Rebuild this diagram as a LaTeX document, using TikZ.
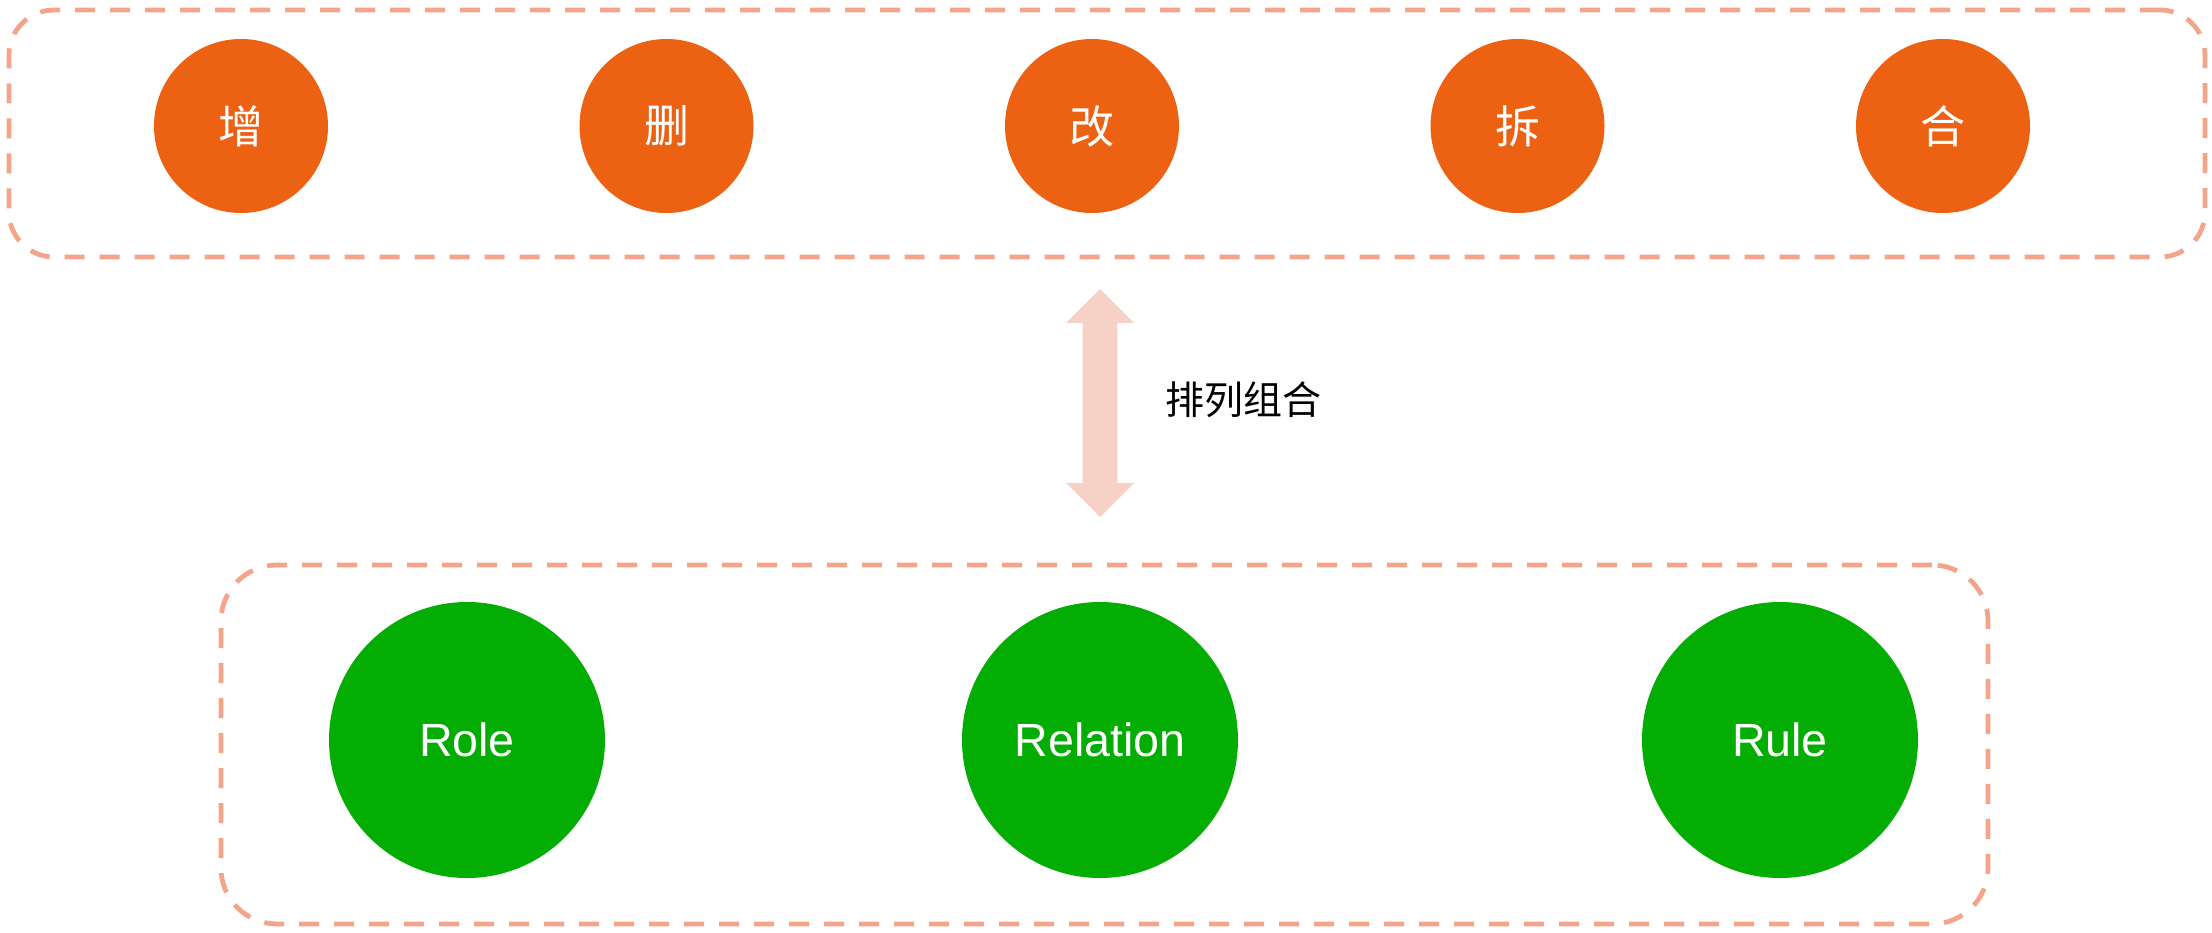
\documentclass[tikz,border=0pt]{standalone}
\usepackage{fontspec}
\setmainfont{Liberation Sans}
\newfontfamily\cjk{Noto Sans CJK SC}
\usetikzlibrary{positioning,shapes.arrows}
\definecolor{opfill}{HTML}{EC6112}
\definecolor{elemfill}{HTML}{03AD03}
\definecolor{boxline}{HTML}{F3A48A}
\definecolor{arrowfill}{HTML}{F7D1C5}

\begin{document}
\begin{tikzpicture}[x=0.5pt,y=-0.5pt,
                    op node/.style={circle,fill=opfill,text=white,minimum size=87pt,inner sep=0pt,
                                    font=\cjk\fontsize{22.5}{26}\selectfont},
                    elem node/.style={circle,fill=elemfill,text=white,minimum size=138pt,inner sep=0pt,
                                      font=\fontsize{23.3}{27}\selectfont},
                    group box/.style={draw=boxline,line width=2.4pt,dash pattern=on 10pt off 7.5pt,inner sep=0pt},
                    swap arrow/.style={double arrow,rotate=90,fill=arrowfill,minimum height=114pt,minimum width=33.5pt,
                                       double arrow head extend=8.25pt,inner xsep=0pt,inner ysep=8.5pt}
                   ]
  \useasboundingbox (0,0) rectangle (2212,932);

  % operations
  \node[group box,rounded corners=22.5pt,minimum width=1098pt,minimum height=123.5pt] (ops) at (1107,133.5) {};
  \node[op node] (add)   at (241,126)    {增};
  \node[op node] (del)   at (666.5,126)  {删};
  \node[op node] (mod)   at (1092,126)   {改};
  \node[op node] (split) at (1517.5,126) {拆};
  \node[op node] (merge) at (1943,126)   {合};

  % permutation
  \node[swap arrow] (swap) at (1100,403) {};
  \node[font=\cjk\fontsize{19.5}{22}\selectfont,anchor=west,inner sep=0pt] (perm) at (1165,400) {排列组合};

  % elements
  \node[group box,rounded corners=28pt,minimum width=883.5pt,minimum height=179.5pt] (elems) at (1104.5,744.5) {};
  \node[elem node] (role)     at (467,740)  {Role};
  \node[elem node] (relation) at (1100,740) {Relation};
  \node[elem node] (rule)     at (1780,740) {Rule};
\end{tikzpicture}
\end{document}
